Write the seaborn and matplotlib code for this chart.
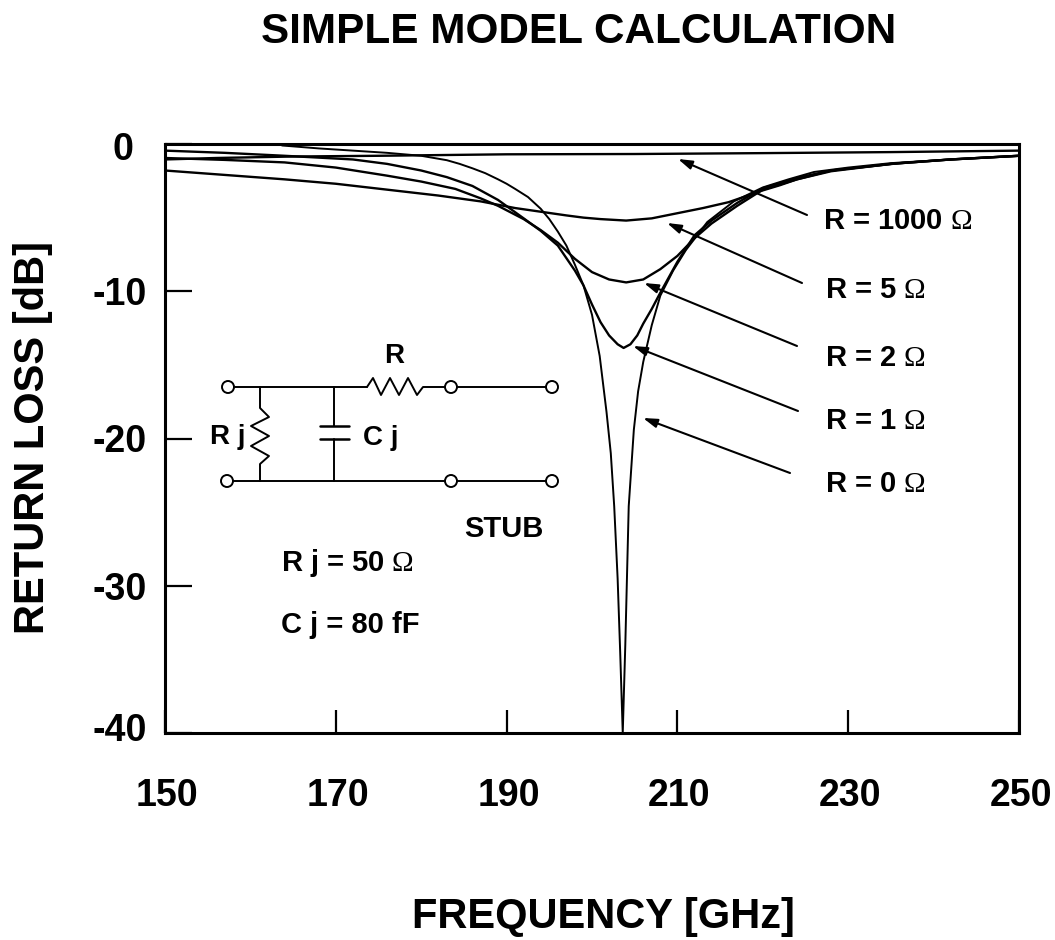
import numpy as np
import pandas as pd
import matplotlib
matplotlib.use('Agg')
import matplotlib.pyplot as plt
from matplotlib.lines import Line2D
from matplotlib.patches import Circle
from matplotlib.transforms import ScaledTranslation
import seaborn as sns

# values
freq_r1000 = [150, 156, 165, 175, 190, 205, 220, 235, 250]
loss_r1000 = [-1.05, -0.95, -0.85, -0.8, -0.7, -0.68, -0.62, -0.55, -0.45]

freq_r5 = [150, 157, 164, 170, 176, 182, 187, 191, 194, 197, 199, 201, 204, 207, 210, 213, 216, 218, 220, 222, 224, 228, 232, 236, 242, 250]
loss_r5 = [-1.8, -2.1, -2.4, -2.7, -3.1, -3.5, -3.9, -4.35, -4.6, -4.85, -5.0, -5.1, -5.2, -5.05, -4.7, -4.35, -3.95, -3.55, -3.15, -2.8, -2.4, -1.8, -1.55, -1.3, -1.05, -0.8]

freq_r2 = [150, 157, 164, 170, 176, 180, 184, 187, 189, 192, 194, 196, 198, 200, 202, 204, 206, 208, 210, 212, 214, 217, 220, 224, 228, 235, 242, 250]
loss_r2 = [-0.95, -1.08, -1.25, -1.6, -2.15, -2.55, -3.05, -3.7, -4.2, -5.1, -5.85, -6.7, -7.8, -8.7, -9.2, -9.4, -9.2, -8.5, -7.6, -6.4, -5.4, -4.2, -3.1, -2.4, -1.85, -1.35, -1.05, -0.8]

freq_r1 = [150, 157, 164, 172, 176, 180, 183, 186, 189, 192, 194, 196, 198, 199, 200, 201, 202, 203, 203.7, 204.5, 205.3, 206, 207, 208, 210, 212, 214, 217, 220, 224, 228, 235, 242, 250]
loss_r1 = [-0.45, -0.6, -0.8, -1.05, -1.35, -1.8, -2.25, -2.85, -3.8, -5.05, -5.9, -6.9, -8.6, -9.6, -10.9, -12.1, -13.0, -13.6, -13.85, -13.6, -13.0, -12.2, -11.2, -10.1, -8.0, -6.2, -5.2, -4.0, -3.0, -2.3, -1.8, -1.35, -1.05, -0.8]

freq_r0 = [163.7, 168, 172, 176, 180, 183, 184.5, 186, 187.5, 189, 190, 191, 192.5, 194, 195, 196, 197, 198, 199, 200, 200.9, 201.7, 202.2, 202.6, 203, 203.3, 203.6, 203.9, 204.3, 204.9, 205.4, 206, 207, 208, 209.5, 211, 213.5, 216.6, 220, 223, 226, 230, 235, 242, 250]
loss_r0 = [-0.1, -0.3, -0.45, -0.6, -0.8, -1.1, -1.35, -1.65, -1.98, -2.4, -2.7, -3.05, -3.6, -4.4, -5.1, -5.95, -6.9, -8.2, -9.6, -11.6, -14.4, -18.2, -21.0, -24.6, -29.5, -34.5, -40, -34.0, -24.6, -19.4, -16.8, -14.8, -12.3, -10.3, -8.6, -7.2, -5.3, -3.9, -2.95, -2.4, -1.9, -1.6, -1.3, -1.05, -0.8]

r_names = ['R = 1000', 'R = 5', 'R = 2', 'R = 1', 'R = 0']
x_ticks = [150, 170, 190, 210, 230, 250]
y_ticks = [0, -10, -20, -30, -40]

frames = []
for name, f, l in zip(r_names,
                      [freq_r1000, freq_r5, freq_r2, freq_r1, freq_r0],
                      [loss_r1000, loss_r5, loss_r2, loss_r1, loss_r0]):
    frames.append(pd.DataFrame({'freq': f, 'loss': l, 'R': name}))
df = pd.concat(frames, ignore_index=True)

sns.set_theme(style='white')
plt.rcParams['font.family'] = ['Liberation Sans', 'DejaVu Sans']
plt.rcParams['axes.unicode_minus'] = False
plt.rcParams['mathtext.fontset'] = 'custom'
plt.rcParams['mathtext.rm'] = 'Liberation Serif'

W, H = 1055, 940
fig = plt.figure(figsize=(W / 100, H / 100), dpi=100)
ax = fig.add_axes([165 / W, 1 - 733 / H, 854 / W, 589 / H])


def px(x, y):
    return x / W, 1 - y / H


sns.lineplot(data=df[df['R'] != 'R = 0'], x='freq', y='loss', hue='R',
             palette=['black'] * 4, estimator=None, sort=False, legend=False,
             linewidth=1.7, ax=ax)
sns.lineplot(data=df[df['R'] == 'R = 0'], x='freq', y='loss', color='black',
             estimator=None, sort=False, legend=False, linewidth=1.4, ax=ax)

ax.set_xlim(150, 250)
ax.set_ylim(-40, 0)
ax.set_xticks(x_ticks)
ax.set_yticks(y_ticks)
ax.tick_params(axis='x', bottom=True, direction='in', length=16.5, width=1.6, pad=34, labelsize=27, color='black', labelcolor='black')
ax.tick_params(axis='y', left=True, direction='in', length=19.5, width=1.6, pad=13, labelsize=27, color='black', labelcolor='black')
for t in ax.get_xticklabels() + ax.get_yticklabels():
    t.set_fontweight('bold')
for t in ax.get_xticklabels():
    t.set_transform(t.get_transform() + ScaledTranslation(2 / 100, 2 / 100, fig.dpi_scale_trans))

# the 0 and -40 labels sit off the ticks in the original
y_labels = ax.get_yticklabels()
y_labels[0].set_transform(y_labels[0].get_transform() + ScaledTranslation(-14 / 100, -2 / 100, fig.dpi_scale_trans))
y_labels[4].set_transform(y_labels[4].get_transform() + ScaledTranslation(0, 6 / 100, fig.dpi_scale_trans))
for s in ax.spines.values():
    s.set_linewidth(2.2)
    s.set_color('black')

ax.set_xlabel('FREQUENCY [GHz]', fontsize=30, fontweight='bold', color='black', va='center')
ax.xaxis.set_label_coords(0.513, -0.312)
ax.set_ylabel('RETURN LOSS [dB]', fontsize=30, fontweight='bold', color='black', va='center')
ax.yaxis.set_label_coords(-0.155, 0.5025)
fig.text(*px(579, 32), 'SIMPLE MODEL CALCULATION', fontsize=30.4, fontweight='bold',
         ha='center', va='center', color='black')

# curve labels and their arrows
label_y = [221, 290, 358, 421, 484]
label_x = [823, 825, 825, 825, 825]
arrow_from = [(807, 215), (802, 283), (797, 346), (798, 411), (790, 473)]
arrow_to = [(678, 159), (667, 223), (644, 283), (633, 346), (643, 418)]
for name, lx, ly, a, b in zip(r_names, label_x, label_y, arrow_from, arrow_to):
    fig.text(*px(lx, ly), name + r' $\mathrm{\Omega}$', fontsize=21, fontweight='bold',
             ha='left', va='center', color='black')
    ax.annotate('', xy=px(*b), xytext=px(*a), xycoords='figure fraction', textcoords='figure fraction',
                arrowprops=dict(arrowstyle='-|>,head_length=0.7,head_width=0.22', color='black',
                                lw=1.5, shrinkA=0, shrinkB=0))


# circuit sketch, positions in image pixels
def wire(xs, ys, lw=1.4):
    fig.add_artist(Line2D([x / W for x in xs], [1 - y / H for y in ys], color='black', lw=lw))


wire([234, 367], [387, 387])
wire([367, 373, 381, 390, 399, 408, 417, 423, 445],
     [387, 378, 395, 378, 395, 378, 395, 387, 387])
wire([457, 546], [387, 387])
wire([233, 445], [481, 481])
wire([457, 546], [481, 481])
wire([260, 260, 269, 251, 269, 251, 269, 260, 260],
     [387, 408, 417, 426, 436, 446, 456, 464, 481])
wire([334, 334], [387, 426])
wire([334, 334], [439, 481])
wire([320, 349], [426, 426], lw=1.8)
wire([320, 349], [439, 439], lw=1.8)

for cx, cy in [(228, 387), (227, 481), (451, 387), (451, 481), (552, 387), (552, 481)]:
    fig.add_artist(Circle((cx, H - cy), 6, transform=None, fc='white', ec='black', lw=1.4, zorder=5))

fig.text(*px(394, 356), 'R', fontsize=20, fontweight='bold', ha='center', va='center', color='black')
fig.text(*px(228, 437), 'R j', fontsize=20, fontweight='bold', ha='center', va='center', color='black')
fig.text(*px(381, 438), 'C j', fontsize=20, fontweight='bold', ha='center', va='center', color='black')
fig.text(*px(504, 529), 'STUB', fontsize=21, fontweight='bold', ha='center', va='center', color='black')
fig.text(*px(281, 563), r'R j = 50 $\mathrm{\Omega}$', fontsize=21, fontweight='bold', ha='left', va='center', color='black')
fig.text(*px(281, 625), 'C j = 80 fF', fontsize=21, fontweight='bold', ha='left', va='center', color='black')

fig.savefig('out.png', dpi=100, facecolor='white')
